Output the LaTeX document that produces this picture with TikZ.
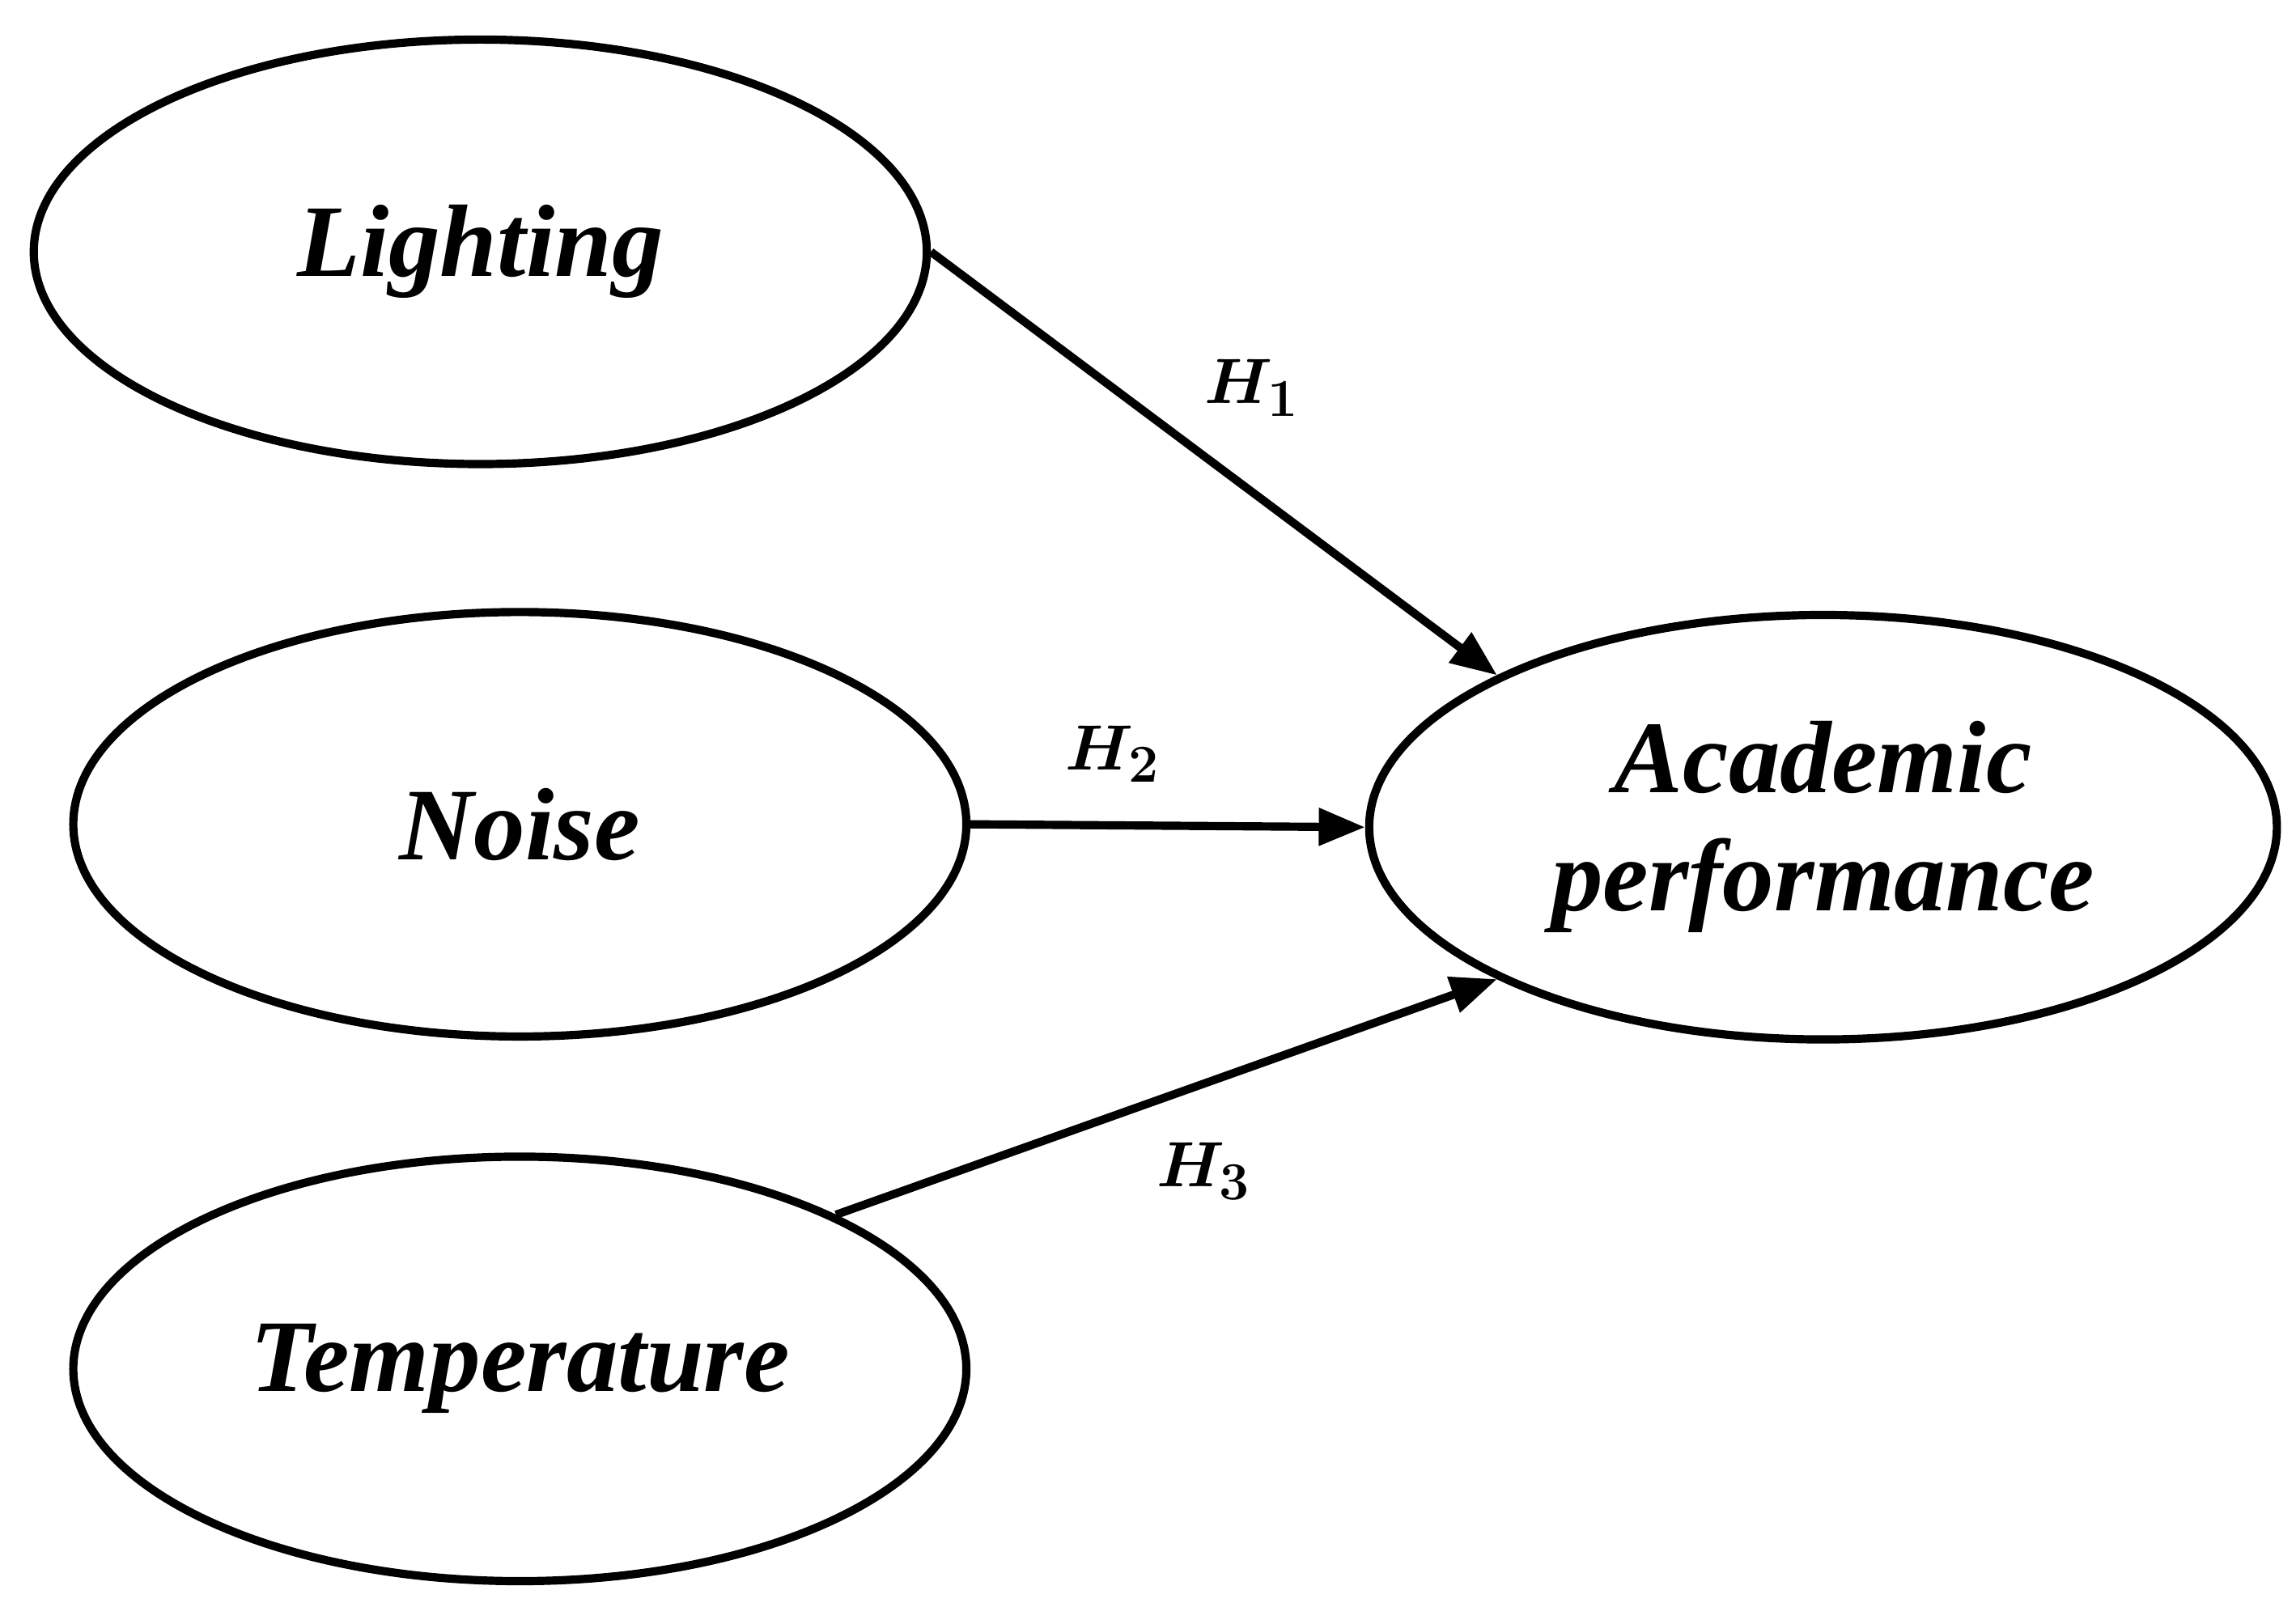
\documentclass[tikz,border=0pt]{standalone}
\usepackage{amsmath,bm}
\usepackage{fontspec}
\setmainfont{Liberation Serif}
\usetikzlibrary{shapes.geometric,arrows.meta}
\begin{document}
\begin{tikzpicture}[x=0.02cm,y=-0.02cm,
  var/.style={ellipse,draw,line width=3.2pt,minimum width=12.2cm,minimum height=5.8cm,inner sep=0pt,align=center,font=\fontsize{40}{46}\selectfont\bfseries\itshape},
  arr/.style={line width=3.2pt,-{Triangle[length=18pt,width=14pt]}},
  lab/.style={font=\fontsize{30}{34}\selectfont}]
\useasboundingbox (0,0) rectangle (1568,1109);
\node[var] (L) at (328,172) {Lighting};
\node[var] (N) at (355,563) {Noise};
\node[var] (T) at (355,935) {Temperature};
\node[var,minimum width=12.4cm] (A) at (1245,565) {Academic\\performance};
\draw[arr] (L.east) -- (A.155);
\draw[arr] (N.east) -- (A.west);
\draw[arr] (T.26) -- (A.205);
\node[lab] (h1) at (855,265) {$\bm{H_{\mathbf{1}}}$};
\node[lab] (h2) at (760,515) {$\bm{H_{\mathbf{2}}}$};
\node[lab] (h3) at (822,800) {$\bm{H_{\mathbf{3}}}$};
\end{tikzpicture}
\end{document}
